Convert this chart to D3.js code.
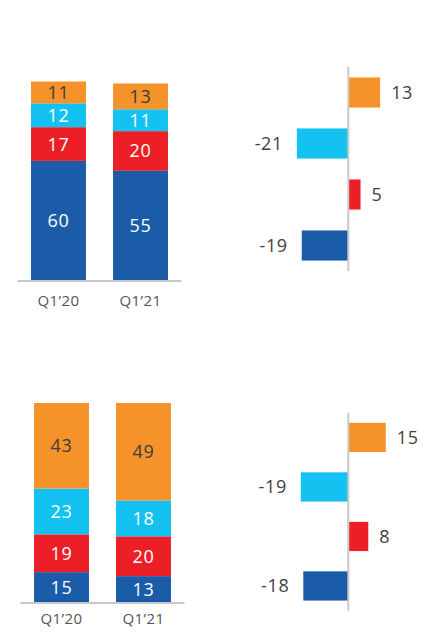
<!DOCTYPE html>
<html>
<head>
<meta charset="utf-8">
<script src="https://cdn.jsdelivr.net/npm/d3@7"></script>
<style>
body { margin: 0; background: #fff; }
svg { display: block; font-family: "Open Sans", sans-serif; }
</style>
</head>
<body>
<svg></svg>
<script>
var quarters = ["Q1\u201920", "Q1\u201921"]
var segments = ["blue", "red", "cyan", "orange"]

// top stacked chart, bottom to top: blue, red, cyan, orange
var topBlue = [60, 55]
var topRed = [17, 20]
var topCyan = [12, 11]
var topOrange = [11, 13]

// bottom stacked chart
var botBlue = [15, 13]
var botRed = [19, 20]
var botCyan = [23, 18]
var botOrange = [43, 49]

// change bars, top to bottom: orange, cyan, red, blue
var changeOrder = ["orange", "cyan", "red", "blue"]
var topChange = [13, -21, 5, -19]
var botChange = [15, -19, 8, -18]

var colors = {orange: "#f5922a", cyan: "#13c2f1", red: "#ec1f27", blue: "#1a5ca8"}
var textColor = {orange: "#3d3d3d", cyan: "#fff", red: "#fff", blue: "#fff"}

var screen = {width: 430, height: 639}

var svg = d3.select("svg")
    .attr("width", screen.width)
    .attr("height", screen.height)

var makeRows = function(blue, red, cyan, orange)
{
    return quarters.map(function(q, i)
    {
        return {q: q, blue: blue[i], red: red[i], cyan: cyan[i], orange: orange[i]}
    })
}

var drawStack = function(rows, xRange, yRange, labelY)
{
    var xScale = d3.scaleBand()
        .domain(quarters)
        .range(xRange)
        .paddingInner(0.33)
        .paddingOuter(0.165)

    var yScale = d3.scaleLinear()
        .domain([0, 100])
        .range(yRange)

    var stacked = d3.stack().keys(segments)(rows)

    var g = svg.append("g")

    var layers = g.selectAll("g.layer")
        .data(stacked)
        .enter()
        .append("g")
        .attr("class", "layer")
        .attr("fill", function(s) { return colors[s.key] })

    layers.selectAll("rect")
        .data(function(s) { return s })
        .enter()
        .append("rect")
        .attr("x", function(d) { return xScale(d.data.q) })
        .attr("width", xScale.bandwidth())
        .attr("y", function(d) { return yScale(d[1]) })
        .attr("height", function(d) { return yScale(d[0]) - yScale(d[1]) })

    layers.each(function(s)
    {
        d3.select(this).selectAll("text")
            .data(s)
            .enter()
            .append("text")
            .attr("x", function(d) { return xScale(d.data.q) + xScale.bandwidth() / 2 })
            .attr("y", function(d) { return (yScale(d[0]) + yScale(d[1])) / 2 })
            .attr("dy", "0.36em")
            .attr("text-anchor", "middle")
            .attr("font-size", 18)
            .attr("letter-spacing", 0.6)
            .attr("fill", textColor[s.key])
            .text(function(d) { return d[1] - d[0] })
    })

    // base line
    g.append("line")
        .attr("x1", xRange[0])
        .attr("x2", xRange[1])
        .attr("y1", yScale(0) + 1)
        .attr("y2", yScale(0) + 1)
        .attr("stroke", "#c8c8c8")
        .attr("stroke-width", 2)

    g.selectAll("text.cat")
        .data(quarters)
        .enter()
        .append("text")
        .attr("class", "cat")
        .attr("x", function(q) { return xScale(q) + xScale.bandwidth() / 2 })
        .attr("y", labelY)
        .attr("dy", "0.36em")
        .attr("text-anchor", "middle")
        .attr("font-size", 15)
        .attr("letter-spacing", 0.4)
        .attr("fill", "#555")
        .text(function(q) { return q })
}

var drawChange = function(values, center, perUnit, yRange)
{
    var rows = changeOrder.map(function(k, i) { return {key: k, value: values[i]} })

    var xScale = d3.scaleLinear()
        .domain([-20, 20])
        .range([center - 20 * perUnit, center + 20 * perUnit])

    var yScale = d3.scaleBand()
        .domain(changeOrder)
        .range(yRange)
        .paddingInner(0.41)
        .paddingOuter(0.205)

    var g = svg.append("g")

    g.selectAll("rect")
        .data(rows)
        .enter()
        .append("rect")
        .attr("x", function(d) { return Math.min(xScale(0), xScale(d.value)) })
        .attr("width", function(d) { return Math.abs(xScale(d.value) - xScale(0)) })
        .attr("y", function(d) { return yScale(d.key) })
        .attr("height", yScale.bandwidth())
        .attr("fill", function(d) { return colors[d.key] })

    g.append("line")
        .attr("x1", xScale(0))
        .attr("x2", xScale(0))
        .attr("y1", yRange[0])
        .attr("y2", yRange[1])
        .attr("stroke", "#c8c8c8")
        .attr("stroke-width", 2)

    g.selectAll("text")
        .data(rows)
        .enter()
        .append("text")
        .attr("x", function(d)
        {
            return d.value > 0 ? xScale(d.value) + 11 : xScale(d.value) - 14
        })
        .attr("y", function(d) { return yScale(d.key) + yScale.bandwidth() / 2 })
        .attr("dy", "0.36em")
        .attr("text-anchor", function(d) { return d.value > 0 ? "start" : "end" })
        .attr("font-size", 18)
        .attr("letter-spacing", 0.6)
        .attr("fill", "#404040")
        .text(function(d) { return d.value })
}

drawStack(makeRows(topBlue, topRed, topCyan, topOrange), [17.5, 181.5], [280, 81.5], 301)
drawStack(makeRows(botBlue, botRed, botCyan, botOrange), [20.5, 184.5], [602, 403], 619)

drawChange(topChange, 348.3, 2.45, [67, 271])
drawChange(botChange, 348.3, 2.5, [412.7, 610.7])
</script>
</body>
</html>
